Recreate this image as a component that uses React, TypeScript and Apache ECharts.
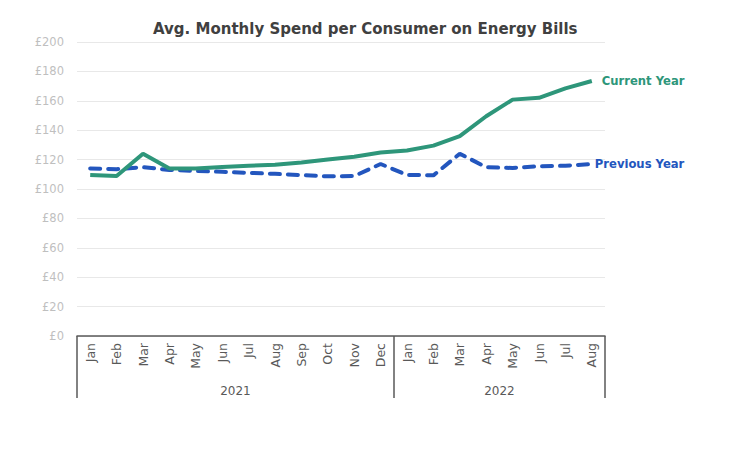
import React, { useEffect, useRef } from "react";
import * as echarts from "echarts";

const months = [
  "Jan", "Feb", "Mar", "Apr", "May", "Jun", "Jul", "Aug", "Sep", "Oct", "Nov", "Dec",
  "Jan", "Feb", "Mar", "Apr", "May", "Jun", "Jul", "Aug",
];
const years = ["2021", "2022"];
const monthsPerYear = [12, 8];

const currentYear = [
  109.5, 108.8, 124, 114, 114, 115, 115.8, 116.5, 118, 120, 122, 124.8,
  126.2, 129.5, 136, 149.5, 160.8, 162, 168.5, 173.5,
];
const previousYear = [
  114, 113.5, 114.8, 113, 112.3, 111.7, 111, 110.3, 109.5, 108.6, 108.8, 117,
  109.6, 109.3, 124, 114.8, 114.3, 115.5, 115.8, 117,
];

const yTicks = { min: 0, max: 200, interval: 20 };

const FONT = "'DejaVu Sans', Lato, sans-serif";

export default function App() {
  const ref = useRef<HTMLDivElement>(null);

  useEffect(() => {
    if (!ref.current) return;
    const chart = echarts.init(ref.current, null, { renderer: "svg" });

    const totalMonths = months.length;
    const yearAxisData: string[] = new Array(totalMonths + 1).fill("");
    let start = 0;
    years.forEach((y, i) => {
      const center = start + monthsPerYear[i] / 2;
      yearAxisData[center] = y;
      start += monthsPerYear[i];
    });
    const boundaries: number[] = [];
    {
      let s = 0;
      monthsPerYear.forEach((n) => {
        boundaries.push(s);
        s += n;
      });
    }

    chart.setOption({
      animation: false,
      backgroundColor: "#ffffff",
      textStyle: { fontFamily: FONT },
      title: {
        text: "Avg. Monthly Spend per Consumer on Energy Bills",
        left: 148,
        top: 16,
        textStyle: {
          fontFamily: FONT,
          fontSize: 15,
          fontWeight: "bold",
          color: "#404040",
        },
      },
      grid: { left: 77, right: 125, top: 42, bottom: 129, containLabel: false },
      xAxis: [
        {
          type: "category",
          data: months,
          boundaryGap: true,
          position: "bottom",
          axisLine: { show: true, lineStyle: { color: "#595959", width: 1.5 } },
          axisTick: {
            show: true,
            length: 62,
            interval: (idx: number) => boundaries.includes(idx),
            lineStyle: { color: "#595959", width: 1.5 },
          },
          axisLabel: {
            interval: 0,
            rotate: 90,
            margin: 7,
            fontSize: 12.5,
            color: "#595959",
            fontFamily: FONT,
          },
          splitLine: { show: false },
        },
        {
          type: "category",
          data: yearAxisData,
          boundaryGap: false,
          position: "bottom",
          offset: 40,
          axisLine: { show: false },
          axisTick: { show: false },
          axisLabel: {
            interval: 0,
            margin: 9,
            fontSize: 12,
            color: "#595959",
            fontFamily: FONT,
          },
        },
      ],
      yAxis: {
        type: "value",
        min: yTicks.min,
        max: yTicks.max,
        interval: yTicks.interval,
        axisLine: { show: false },
        axisTick: { show: false },
        axisLabel: {
          formatter: "£{value}",
          color: "#BFBFBF",
          fontSize: 11.5,
          margin: 13,
          fontFamily: FONT,
        },
        splitLine: { show: true, lineStyle: { color: "#E8E8E8", width: 1 } },
      },
      series: [
        {
          name: "Previous Year",
          type: "line",
          data: previousYear,
          symbol: "none",
          lineStyle: { color: "#2356BE", width: 4, type: [10, 8], cap: "round" },
          itemStyle: { color: "#2356BE" },
          endLabel: {
            show: true,
            formatter: "{a}",
            distance: 3,
            color: "#2356BE",
            fontWeight: "bold",
            fontSize: 11.6,
            fontFamily: FONT,
          },
          z: 2,
        },
        {
          name: "Current Year",
          type: "line",
          data: currentYear,
          symbol: "none",
          lineStyle: { color: "#2E967A", width: 4 },
          itemStyle: { color: "#2E967A" },
          endLabel: {
            show: true,
            formatter: "{a}",
            distance: 10,
            color: "#2E967A",
            fontWeight: "bold",
            fontSize: 11.6,
            fontFamily: FONT,
          },
          z: 3,
        },
      ],
    });

    return () => chart.dispose();
  }, []);

  return (
    <div
      ref={ref}
      style={{ position: "fixed", left: 0, top: 0, width: 730, height: 465, background: "#fff" }}
    />
  );
}
